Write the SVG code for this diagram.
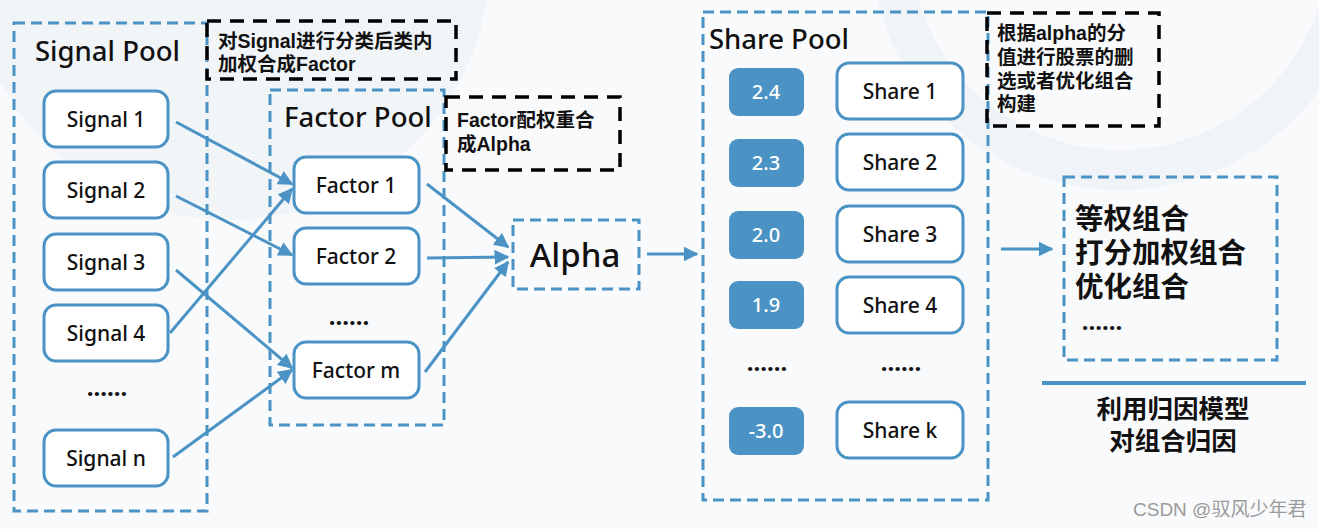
<svg xmlns="http://www.w3.org/2000/svg" width="1319" height="529" viewBox="0 0 1319 529">
<defs>
<style>
.pool{fill:none;stroke:#4b93c4;stroke-width:3;stroke-dasharray:11 6}
.note{fill:none;stroke:#000;stroke-width:3.5;stroke-dasharray:14 9}
.node{fill:#fff;stroke:#4b93c4;stroke-width:3}
.score{fill:#4b93c4;stroke:none}
.t{font-family:"Noto Sans","Noto Sans CJK SC",sans-serif;fill:#111;font-weight:500}
.lbl{font-size:21px;text-anchor:middle}
.pt{font-size:27.5px}
.nt{font-family:"Liberation Sans","Noto Sans CJK SC",sans-serif;font-size:19.5px;font-weight:bold;fill:#111}
.big{font-family:"Liberation Sans","Noto Sans CJK SC",sans-serif;font-size:28.5px;font-weight:bold;fill:#111}
.attr{font-family:"Liberation Sans","Noto Sans CJK SC",sans-serif;font-size:25.5px;font-weight:bold;fill:#111;text-anchor:middle}
.sc{font-size:20px;text-anchor:middle;fill:#fff}
.dots{font-family:"Noto Sans",sans-serif;font-size:24px;font-weight:bold;fill:#111;text-anchor:middle}
.wm{font-family:"Liberation Sans","Noto Sans CJK SC",sans-serif;font-size:19px;fill:#9a9a9a}
.conn line{stroke:#4b93c4;stroke-width:3;marker-end:url(#ah)}
</style>
<marker id="ah" viewBox="0 0 10 10" refX="9" refY="5" markerWidth="5" markerHeight="5" orient="auto" markerUnits="strokeWidth">
<path d="M0,0 L10,5 L0,10 z" fill="#4b93c4"/>
</marker>
</defs>
<rect width="1319" height="529" fill="#f9fafc"/>
<circle cx="230" cy="-40" r="260" fill="#eef2f7" opacity="0.7"/>
<circle cx="1120" cy="-60" r="230" fill="none" stroke="#edf1f6" stroke-width="40" opacity="0.8"/>

<g id="signal-pool">
<rect class="pool" x="14" y="23" width="193" height="488"/>
<text class="t pt" x="35" y="61">Signal Pool</text>
</g>
<g id="signal-1"><rect class="node" x="44" y="91" width="124" height="56" rx="12"/><text class="t lbl" x="106" y="127">Signal 1</text></g>
<g id="signal-2"><rect class="node" x="44" y="162" width="124" height="56" rx="12"/><text class="t lbl" x="106" y="198">Signal 2</text></g>
<g id="signal-3"><rect class="node" x="44" y="234" width="124" height="56" rx="12"/><text class="t lbl" x="106" y="270">Signal 3</text></g>
<g id="signal-4"><rect class="node" x="44" y="305" width="124" height="56" rx="12"/><text class="t lbl" x="106" y="341">Signal 4</text></g>
<g id="signal-dots"><text class="dots" x="107" y="396">......</text></g>
<g id="signal-n"><rect class="node" x="44" y="430" width="124" height="56" rx="12"/><text class="t lbl" x="106" y="466">Signal n</text></g>

<g id="note-1">
<rect class="note" x="207" y="21" width="249" height="58"/>
<text class="nt" x="218" y="48">对Signal进行分类后类内<tspan x="218" dy="23">加权合成Factor</tspan></text>
</g>

<g id="factor-pool">
<rect class="pool" x="270" y="90" width="174" height="335"/>
<text class="t pt" x="284" y="127">Factor Pool</text>
</g>
<g id="factor-1"><rect class="node" x="294" y="157" width="125" height="56" rx="12"/><text class="t lbl" x="356" y="193">Factor 1</text></g>
<g id="factor-2"><rect class="node" x="294" y="228" width="125" height="56" rx="12"/><text class="t lbl" x="356" y="264">Factor 2</text></g>
<g id="factor-dots"><text class="dots" x="349" y="325">......</text></g>
<g id="factor-m"><rect class="node" x="294" y="342" width="125" height="56" rx="12"/><text class="t lbl" x="356" y="378">Factor m</text></g>

<g id="note-2">
<rect class="note" x="446" y="97" width="174" height="73"/>
<text class="nt" x="457" y="127">Factor配权重合<tspan x="457" dy="24">成Alpha</tspan></text>
</g>

<g id="alpha">
<rect class="pool" x="513" y="220" width="126" height="69"/>
<text class="t" x="575" y="267" font-size="33" text-anchor="middle">Alpha</text>
</g>

<g id="share-pool">
<rect class="pool" x="703" y="12" width="285" height="488"/>
<text class="t pt" x="709" y="49">Share Pool</text>
</g>
<g id="score-1"><rect class="score" x="729" y="68" width="75" height="48" rx="9"/><text class="t sc" x="766" y="99">2.4</text></g>
<g id="score-2"><rect class="score" x="729" y="139" width="75" height="48" rx="9"/><text class="t sc" x="766" y="170">2.3</text></g>
<g id="score-3"><rect class="score" x="729" y="211" width="75" height="48" rx="9"/><text class="t sc" x="766" y="242">2.0</text></g>
<g id="score-4"><rect class="score" x="729" y="281" width="75" height="48" rx="9"/><text class="t sc" x="766" y="312">1.9</text></g>
<g id="score-dots"><text class="dots" x="767" y="371">......</text></g>
<g id="score-k"><rect class="score" x="729" y="407" width="75" height="48" rx="9"/><text class="t sc" x="766" y="438">-3.0</text></g>

<g id="share-1"><rect class="node" x="837" y="63" width="126" height="56" rx="12"/><text class="t lbl" x="900" y="99">Share 1</text></g>
<g id="share-2"><rect class="node" x="837" y="134" width="126" height="56" rx="12"/><text class="t lbl" x="900" y="170">Share 2</text></g>
<g id="share-3"><rect class="node" x="837" y="206" width="126" height="56" rx="12"/><text class="t lbl" x="900" y="242">Share 3</text></g>
<g id="share-4"><rect class="node" x="837" y="277" width="126" height="56" rx="12"/><text class="t lbl" x="900" y="313">Share 4</text></g>
<g id="share-dots"><text class="dots" x="901" y="371">......</text></g>
<g id="share-k"><rect class="node" x="837" y="402" width="126" height="56" rx="12"/><text class="t lbl" x="900" y="438">Share k</text></g>

<g id="note-3">
<rect class="note" x="987" y="13" width="172" height="113"/>
<text class="nt" x="997" y="40">根据alpha的分<tspan x="997" dy="24">值进行股票的删</tspan><tspan x="997" dy="24">选或者优化组合</tspan><tspan x="997" dy="23">构建</tspan></text>
</g>

<g id="portfolio">
<rect class="pool" x="1064" y="177" width="213" height="183"/>
<text class="big" x="1075" y="229">等权组合<tspan x="1075" dy="34">打分加权组合</tspan><tspan x="1075" dy="34">优化组合</tspan></text>
<text class="dots" x="1102" y="330">......</text>
</g>

<g id="attribution">
<line x1="1042" y1="383" x2="1306" y2="383" stroke="#4b93c4" stroke-width="4"/>
<text class="attr" x="1173" y="418">利用归因模型<tspan x="1173" dy="32">对组合归因</tspan></text>
</g>

<g class="conn" id="connectors">
<line x1="176" y1="122" x2="292" y2="184"/>
<line x1="176" y1="196" x2="292" y2="255"/>
<line x1="176" y1="270" x2="292" y2="368"/>
<line x1="170" y1="333" x2="292" y2="189"/>
<line x1="173" y1="457" x2="292" y2="370"/>
<line x1="427" y1="184" x2="508" y2="247"/>
<line x1="427" y1="258" x2="508" y2="257"/>
<line x1="425" y1="372" x2="508" y2="262"/>
<line x1="647" y1="254" x2="697" y2="254"/>
<line x1="1001" y1="249" x2="1052" y2="249"/>
</g>

<text class="wm" x="1133" y="516">CSDN @驭风少年君</text>
</svg>
